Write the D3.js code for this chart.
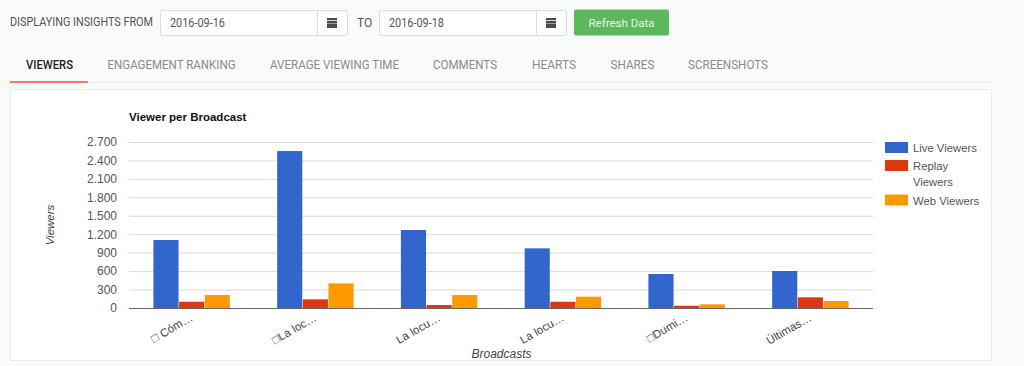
<!DOCTYPE html>
<html><head><meta charset="utf-8">
<script src="https://cdn.jsdelivr.net/npm/d3@7/dist/d3.min.js"></script>
<style>
html,body{margin:0;padding:0;background:#f9fafa;width:1024px;height:366px;overflow:hidden}
svg{display:block}
.ui{font-family:Roboto,sans-serif}
.g{font-family:"Liberation Sans",Arial,sans-serif}
</style></head><body>
<svg id="c" width="1024" height="366"></svg>
<script>
const categories=["□ Cóm…","□La loc…","La locu…","La locu…","□Dumi…","Últimas…"];
const seriesNames=["Live Viewers","Replay Viewers","Web Viewers"];
const liveViewers=[1106,2553,1269,970,553,602];
const replayViewers=[102,141,49,102,37,174];
const webViewers=[211,401,211,184,60,114];
const yTicks=[0,300,600,900,1200,1500,1800,2100,2400,2700];
const tabs=["VIEWERS","ENGAGEMENT RANKING","AVERAGE VIEWING TIME","COMMENTS","HEARTS","SHARES","SCREENSHOTS"];
const colors=["#3366cc","#dc3912","#ff9900"];
const values=[liveViewers,replayViewers,webViewers];

const svg=d3.select("#c");
const fmt=v=>String(v).replace(/\B(?=(\d{3})+$)/g,".");

function text(x,y,s,size,fill,cls,extra){
  const t=svg.append("text").attr("x",x).attr("y",y).attr("font-size",size).attr("fill",fill).attr("class",cls).text(s);
  if(extra)extra(t);return t;
}
const squeeze=w=>t=>t.attr("textLength",w).attr("lengthAdjust","spacingAndGlyphs");
text(10,25.5,"DISPLAYING INSIGHTS FROM",12,"#555","ui",squeeze(143));
function dateBox(x,s){
  svg.append("rect").attr("x",x+.5).attr("y",10.5).attr("width",187).attr("height",25).attr("rx",2).attr("fill","#fff").attr("stroke","#dcdcdc");
  svg.append("line").attr("x1",x+157.5).attr("x2",x+157.5).attr("y1",11).attr("y2",35).attr("stroke","#dcdcdc");
  text(x+10,26.5,s,12,"#555","ui",squeeze(55));
  const ic=svg.append("g").attr("transform",`translate(${x+167},18)`);
  ic.append("rect").attr("width",10).attr("height",10).attr("fill","#4a4a4a");
  ic.append("line").attr("x1",0).attr("x2",10).attr("y1",2.5).attr("y2",2.5).attr("stroke","#ddd");
  ic.append("line").attr("x1",0).attr("x2",10).attr("y1",5.5).attr("y2",5.5).attr("stroke","#999");
}
dateBox(160,"2016-09-16");
text(357,26.5,"TO",12,"#555","ui");
dateBox(379,"2016-09-18");
svg.append("rect").attr("x",574).attr("y",9.5).attr("width",95).attr("height",26).attr("rx",2).attr("fill","#5cb85c");
text(621.5,26.5,"Refresh Data",11.5,"#e8f5e8","ui",t=>t.attr("text-anchor","middle"));

const tabX=[26,107.5,270,433,532,610.5,688];
const tabW=[47,128,129,64,44,44,80];
tabs.forEach((s,i)=>text(tabX[i],69,s,12,i?"#8a8a8a":"#222","ui",t=>{t.attr("font-weight",i?400:500);squeeze(tabW[i])(t);}));
svg.append("line").attr("x1",10).attr("x2",992).attr("y1",82.5).attr("y2",82.5).attr("stroke","#ececec");
svg.append("rect").attr("x",10).attr("y",81).attr("width",78).attr("height",2).attr("fill","#f4796b");

svg.append("rect").attr("x",10.5).attr("y",89.5).attr("width",981).attr("height",271).attr("fill","#fff").attr("stroke","#ececec");

const L=129,R=873,T=142,B=308;
const y=d3.scaleLinear().domain([0,2700]).range([B,T]);
const x=d3.scaleBand().domain(d3.range(categories.length)).range([L,R]).paddingInner(0.374).paddingOuter(0.193);
const xs=d3.scaleBand().domain(d3.range(3)).range([0,x.bandwidth()]).padding(0.02);

text(129,121,"Viewer per Broadcast",11.5,"#111","g",t=>t.attr("font-weight","bold"));

const yAxis=d3.axisLeft(y).tickValues(yTicks).tickFormat(fmt).tickSize(-(R-L)).tickPadding(12);
const ya=svg.append("g").attr("class","g").attr("transform",`translate(${L},0)`).call(yAxis);
ya.select(".domain").remove();
ya.selectAll(".tick line").attr("stroke",d=>d===0?"#666":"#d9d9d9").attr("stroke-width",1);
ya.selectAll(".tick text").attr("font-size",12).attr("font-family","'Liberation Sans',Arial,sans-serif").attr("fill","#555");

const groups=svg.selectAll(".grp").data(categories).join("g").attr("class","grp").attr("transform",(d,i)=>`translate(${x(i)},0)`);
groups.each(function(d,i){
  d3.select(this).selectAll("rect").data(values.map(v=>v[i])).join("rect")
    .attr("x",(v,s)=>xs(s)).attr("width",xs.bandwidth())
    .attr("y",v=>y(v)).attr("height",v=>B-y(v)).attr("fill",(v,s)=>colors[s]);
});
svg.append("line").attr("x1",L).attr("x2",R).attr("y1",B+.5).attr("y2",B+.5).attr("stroke","#666");

const xAxis=d3.axisBottom(x).tickFormat(i=>categories[i]).tickSize(0);
const xa=svg.append("g").attr("class","g").attr("transform",`translate(0,${B})`).call(xAxis);
xa.select(".domain").remove();
xa.selectAll(".tick text")
  .attr("font-size",11.5).attr("font-family","'Liberation Sans',Arial,sans-serif").attr("fill","#444")
  .attr("text-anchor","end").attr("dy",0).attr("y",0)
  .attr("transform","translate(2,12) rotate(-30)");

text(501.5,358,"Broadcasts",12,"#444","g",t=>t.attr("text-anchor","middle").attr("font-style","italic"));
svg.append("text").attr("class","g").attr("transform","translate(54,225) rotate(-90)").attr("text-anchor","middle")
  .attr("font-size",11.5).attr("font-style","italic").attr("fill","#444").text("Viewers");

const legendRows=[[142,["Live Viewers"],151.5],[160,["Replay","Viewers"],170],[194.5,["Web Viewers"],204.5]];
legendRows.forEach((r,i)=>{
  svg.append("rect").attr("x",885).attr("y",r[0]).attr("width",23).attr("height",11).attr("fill",colors[i]);
  r[1].forEach((s,j)=>text(913,r[2]+j*15.5,s,11.3,"#555","g"));
});
</script>
</body></html>
